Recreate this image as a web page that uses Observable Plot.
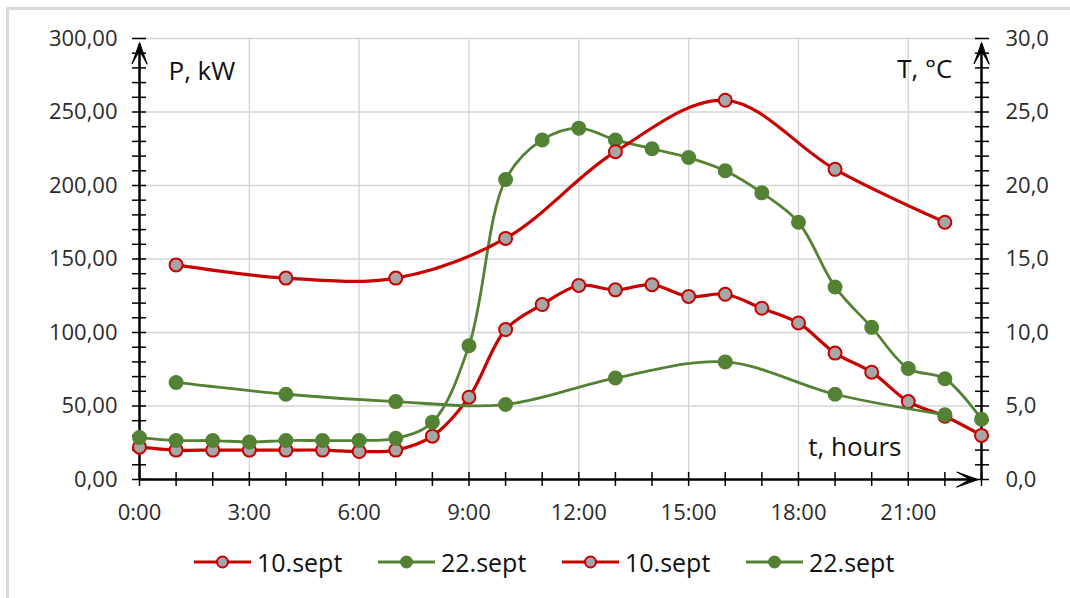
<!DOCTYPE html>
<html>
<head>
<meta charset="utf-8">
<script src="https://cdn.jsdelivr.net/npm/d3@7"></script>
<script src="https://cdn.jsdelivr.net/npm/@observablehq/plot@0.6"></script>
<style>
  html, body { margin: 0; padding: 0; background: #fff; overflow: hidden; }
  body { width: 1070px; height: 598px; position: relative; font-family: "Open Sans", sans-serif; }
  #frame { position: absolute; left: 6px; top: 7px; width: 1200px; height: 700px; border: 3px solid #d9d9d9; box-sizing: border-box; }
  #chart { position: absolute; left: 0; top: 0; }
  #legend { position: absolute; left: 194px; top: 544px; display: flex; }
  .item { width: 184px; display: flex; align-items: center; height: 36px; }
  .item svg { flex: none; }
  .item span { margin-left: 6px; font-size: 25px; color: #111; line-height: 36px; white-space: nowrap; }
</style>
</head>
<body>
<div id="frame"></div>
<div id="chart"></div>
<div id="legend"></div>
<script>
// ---- data ----
const hours = [0,1,2,3,4,5,6,7,8,9,10,11,12,13,14,15,16,17,18,19,20,21,22,23];
const power10 = [22,20,20,20,20,20,19,20,29.5,56,102,119,132,129,132.5,124.5,126,116.5,106.5,86,73,53,43,30];
const power22 = [28.5,26.5,26.5,25.5,26.5,26.5,26.5,28,39,91,204,231,239,231,225,219,210,195,175,131,103.5,75.5,68.5,41];
const tempHours = [1,4,7,10,13,16,19,22];
const temp10 = [14.6,13.7,13.7,16.4,22.3,25.8,21.1,17.5];
const temp22 = [6.6,5.8,5.3,5.1,6.9,8.0,5.8,4.4];
const seriesNames = ["10.sept","22.sept","10.sept","22.sept"];
const pTicks = [0,50,100,150,200,250,300];
const tTicks = [0,5,10,15,20,25,30];
const xTicks = [0,3,6,9,12,15,18,21];
const minorP = [0,10,20,30,40,50,60,70,80,90,100,110,120,130,140,150,160,170,180,190,200,210,220,230,240,250,260,270,280,290,300];
const gridH = [50,100,150,200,250,300];
const gridV = [3,6,9,12,15,18,21];

const RED = "#C80000", GREEN = "#548235", GRAY = "#A6A6A6";
const TEMP_K = 10; // right axis: 30 °C aligns with 300 kW

const p10 = hours.map((h,i) => ({h, v: power10[i]}));
const p22 = hours.map((h,i) => ({h, v: power22[i]}));
const t10 = tempHours.map((h,i) => ({h, v: temp10[i] * TEMP_K}));
const t22 = tempHours.map((h,i) => ({h, v: temp22[i] * TEMP_K}));

const fmtP = d => d.toFixed(2).replace(".", ",");
const fmtT = d => (d / TEMP_K).toFixed(1).replace(".", ",");

const stealth = {
  draw(context, l) {
    const w = 7.5;
    context.moveTo(0, -l);
    context.lineTo(-w, 0);
    context.lineTo(0, -l * 0.62);
    context.lineTo(w, 0);
    context.closePath();
  }
};

function seriesMarks(data, color, fill, sw) {
  return [
    Plot.line(data, {x: "h", y: "v", stroke: color, strokeWidth: sw, curve: "catmull-rom"}),
    Plot.dot(data, {x: "h", y: "v", r: 6.5, fill: fill, stroke: color, strokeWidth: 2})
  ];
}

const font = "Open Sans";
const chart = Plot.plot({
  width: 1070,
  height: 540,
  marginLeft: 139,
  marginRight: 89,
  marginTop: 38,
  marginBottom: 61,
  style: {fontFamily: font, background: "transparent", overflow: "visible"},
  x: {domain: [0, 23]},
  y: {domain: [0, 300]},
  marks: [
    Plot.ruleY(gridH, {x1: 0, x2: 23, stroke: "#d4d4d4", strokeWidth: 1.3}),
    Plot.ruleX(gridV, {y1: 0, y2: 300, stroke: "#d4d4d4", strokeWidth: 1.3}),
    // tick labels
    Plot.axisY({anchor: "left", ticks: pTicks, tickSize: 0, tickPadding: 22, tickFormat: fmtP, fontSize: 22, fill: "#2b2b2b", label: null}),
    Plot.axisY({anchor: "right", ticks: tTicks.map(t => t * TEMP_K), tickSize: 0, tickPadding: 24, tickFormat: fmtT, fontSize: 22, fill: "#2b2b2b", label: null}),
    Plot.axisX({anchor: "bottom", ticks: xTicks, tickSize: 0, tickPadding: 25, tickFormat: d => d + ":00", fontSize: 22, fill: "#2b2b2b", label: null}),
    // crossing tick marks
    Plot.axisY({anchor: "left", ticks: minorP, tickSize: 14, dx: 7, fill: "none", stroke: "#000", strokeWidth: 1.5, label: null}),
    Plot.axisY({anchor: "right", ticks: minorP, tickSize: 14, dx: -7, fill: "none", stroke: "#000", strokeWidth: 1.5, label: null}),
    Plot.axisX({anchor: "bottom", ticks: hours, tickSize: 14, dy: -7, fill: "none", stroke: "#000", strokeWidth: 1.5, label: null}),
    // axis lines
    Plot.ruleX([0], {y1: 0, y2: 296, stroke: "#000", strokeWidth: 2.5}),
    Plot.ruleX([23], {y1: 0, y2: 296, stroke: "#000", strokeWidth: 2.5}),
    Plot.ruleY([0], {x1: 0, x2: 22.85, stroke: "#000", strokeWidth: 2.5}),
    Plot.vector([{x: 0, y: 297, r: 0}, {x: 23, y: 297, r: 0}, {x: 22.9, y: 0, r: 90}],
      {x: "x", y: "y", rotate: "r", length: 21, anchor: "end", shape: stealth, fill: "#000", stroke: "#000", strokeWidth: 1}),
    // axis titles
    Plot.text(["P, kW"], {frameAnchor: "top-left", dx: 29, dy: 23, textAnchor: "start", lineAnchor: "top", fontSize: 26, fill: "#111"}),
    Plot.text(["T, °C"], {frameAnchor: "top-right", dx: -29, dy: 21, textAnchor: "end", lineAnchor: "top", fontSize: 26, fill: "#111"}),
    Plot.text(["t, hours"], {frameAnchor: "bottom-right", dx: -80, dy: -42, textAnchor: "end", lineAnchor: "top", fontSize: 26, fill: "#111"}),
    // series
    ...seriesMarks(p10, RED, GRAY, 3.2),
    ...seriesMarks(p22, GREEN, GREEN, 2.8),
    ...seriesMarks(t10, RED, GRAY, 3.2),
    ...seriesMarks(t22, GREEN, GREEN, 2.8)
  ]
});
document.getElementById("chart").appendChild(chart);

// legend
const legendColors = [[RED, GRAY], [GREEN, GREEN], [RED, GRAY], [GREEN, GREEN]];
const legend = document.getElementById("legend");
seriesNames.forEach((name, i) => {
  const [c, f] = legendColors[i];
  const item = document.createElement("div");
  item.className = "item";
  item.innerHTML = `<svg width="57" height="20"><line x1="0" x2="57" y1="10" y2="10" stroke="${c}" stroke-width="3"/><circle cx="28.5" cy="10" r="5.5" fill="${f}" stroke="${c}" stroke-width="2"/></svg><span>${name}</span>`;
  legend.appendChild(item);
});
</script>
</body>
</html>
